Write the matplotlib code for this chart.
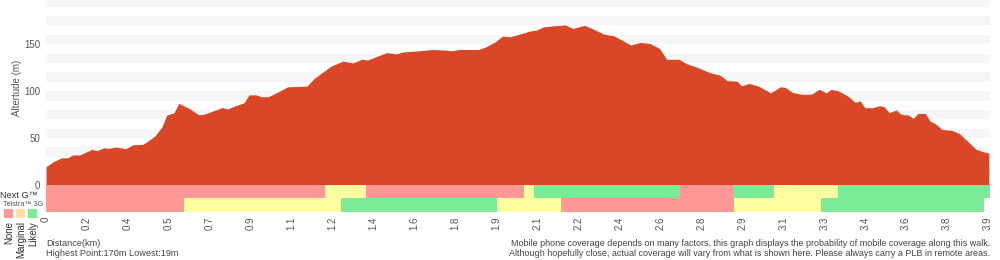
import matplotlib
matplotlib.use('Agg')
import matplotlib.pyplot as plt
import numpy as np

plt.rcParams['font.family'] = ['Liberation Sans', 'DejaVu Sans']

# elevation profile (km, m)
dist = [0.00, 0.03, 0.065, 0.09, 0.11, 0.14, 0.19, 0.21, 0.24, 0.26, 0.29, 0.33, 0.36, 0.40,
        0.42, 0.45, 0.48, 0.50, 0.53, 0.55, 0.60, 0.63, 0.65, 0.69, 0.73, 0.75, 0.78, 0.82,
        0.84, 0.87, 0.89, 0.92, 0.96, 1.00, 1.08, 1.11, 1.15, 1.18, 1.23, 1.27, 1.31, 1.33,
        1.37, 1.41, 1.45, 1.48, 1.53, 1.60, 1.66, 1.68, 1.71, 1.79, 1.82, 1.86, 1.89, 1.92,
        1.96, 2.00, 2.03, 2.06, 2.10, 2.15, 2.18, 2.23, 2.26, 2.31, 2.35, 2.39, 2.42, 2.46,
        2.50, 2.54, 2.57, 2.62, 2.65, 2.69, 2.75, 2.79, 2.82, 2.86, 2.88, 2.91, 2.95, 3.00,
        3.04, 3.06, 3.09, 3.13, 3.17, 3.20, 3.23, 3.25, 3.28, 3.32, 3.35, 3.37, 3.39, 3.42,
        3.45, 3.47, 3.49, 3.52, 3.54, 3.57, 3.59, 3.61, 3.64, 3.66, 3.68, 3.71, 3.75, 3.78,
        3.81, 3.85, 3.88, 3.903]
alt = [19.5, 24.8, 29, 29, 32, 32, 38, 36.5, 39.7, 39, 40.4, 38.7, 42.9, 43.3,
       46.5, 52, 62, 74.5, 77, 87, 80.5, 75, 75, 78.7, 82.6, 80.9, 84, 87.6,
       96, 96, 94, 94, 99, 104.6, 105.3, 113.5, 121, 126.6, 132, 130, 134, 133,
       137, 141, 139.7, 141.8, 142.6, 144.3, 143.6, 142.9, 144.3, 144.3, 147, 152.5, 158.5, 157.8,
       160.6, 163.8, 165, 168.4, 169.5, 170.5, 166.7, 170, 166.7, 160.6, 158.9, 153.5, 149, 151.8,
       150.7, 145.4, 133.7, 134, 129.4, 125.9, 119.5, 117, 111, 110.6, 105.7, 108.2, 105.3, 98.2,
       104.6, 104, 98.6, 96.5, 96.8, 102, 98.2, 101.8, 100.3, 94.7, 88, 89.7, 82.3, 82.3,
       84.4, 83.3, 77, 79.8, 75.2, 74.5, 71, 76.2, 76.2, 68, 65.6, 59.2, 58.2, 55,
       47.9, 38, 35.4, 34]

# coverage segments
nextg_edges = [0, 1.154, 1.323, 1.977, 2.022, 2.626, 2.845, 3.015, 3.280, 3.908]
nextg_level = ['none', 'marginal', 'none', 'marginal', 'likely', 'none', 'likely', 'marginal', 'likely']
g3_edges = [0, 0.571, 1.220, 1.865, 2.130, 2.850, 3.209, 3.883]
g3_level = ['none', 'marginal', 'likely', 'marginal', 'none', 'marginal', 'likely']

tick_labels = ['0', '0.2', '0.4', '0.5', '0.7', '0.9', '1.1', '1.2', '1.4', '1.6', '1.8', '1.9',
               '2.1', '2.2', '2.4', '2.6', '2.8', '2.9', '3.1', '3.3', '3.4', '3.6', '3.8', '3.9']

cov_col = {'none': '#ff9896', 'marginal': '#ffffa0', 'likely': '#7ceb98'}
W, H = 1000, 260

fig = plt.figure(figsize=(10, 2.6), dpi=100)
ax = fig.add_axes([46 / W, 1 - 212 / H, 944 / W, 212 / H])
ax.set_xlim(0, 3.908)
ax.set_ylim(-28.7, 197)
for s in ax.spines.values():
    s.set_visible(False)

# stripes
for y0 in range(10, 200, 20):
    ax.axhspan(y0, y0 + 10, color='#f6f6f6', lw=0, zorder=0)

ax.fill_between(dist, 0, alt, color='#d94727', lw=0, zorder=2)

for edges, levels, y0, y1 in [(nextg_edges, nextg_level, -13.8, 0), (g3_edges, g3_level, -28.7, -13.8)]:
    for i, lv in enumerate(levels):
        ax.fill_between([edges[i], edges[i + 1]], y0, y1, color=cov_col[lv], lw=0, zorder=2)

ax.set_yticks([0, 50, 100, 150])
ax.set_yticklabels(['0', '50', '100', '150'])
ax.set_xticks(np.linspace(0, 3.9, len(tick_labels)))
ax.set_xticklabels(tick_labels, rotation=90)
ax.tick_params(length=0, labelsize=7, colors='#555555', pad=3)
ax.tick_params(axis='y', pad=4)

# texts
def ft(px, py, s, **kw):
    fig.text(px / W, 1 - py / H, s, **kw)

ft(17, 88, 'Altertude (m)', rotation=90, ha='center', va='center', fontsize=7, color='#555555')
ft(0, 195, 'Next G™', ha='left', va='center', fontsize=6.6, color='#333333')
ft(3, 204, 'Telstra™ 3G', ha='left', va='center', fontsize=5.2, color='#555555')
for px, c in [(4, '#ff9999'), (16, '#ffe0a8'), (28, '#80e8a0')]:
    fig.patches.append(plt.Rectangle((px / W, 1 - 218 / H), 9 / W, 9 / H,
                                     transform=fig.transFigure, color=c, lw=0))
for px, s in [(9, 'None'), (21, 'Marginal'), (33, 'Likely')]:
    ft(px, 221, s, rotation=90, ha='center', va='top', fontsize=7, color='#333333')

ft(46, 243, 'Distance(km)', ha='left', va='center', fontsize=6.6, color='#444444')
ft(46, 253, 'Highest Point:170m Lowest:19m', ha='left', va='center', fontsize=6.6, color='#444444')
ft(990, 243, 'Mobile phone coverage depends on many factors, this graph displays the probability of mobile coverage along this walk.',
   ha='right', va='center', fontsize=6.5, color='#444444')
ft(990, 253, 'Although hopefully close, actual coverage will vary from what is shown here. Please always carry a PLB in remote areas.',
   ha='right', va='center', fontsize=6.5, color='#444444')

fig.savefig('out.png', dpi=100)
